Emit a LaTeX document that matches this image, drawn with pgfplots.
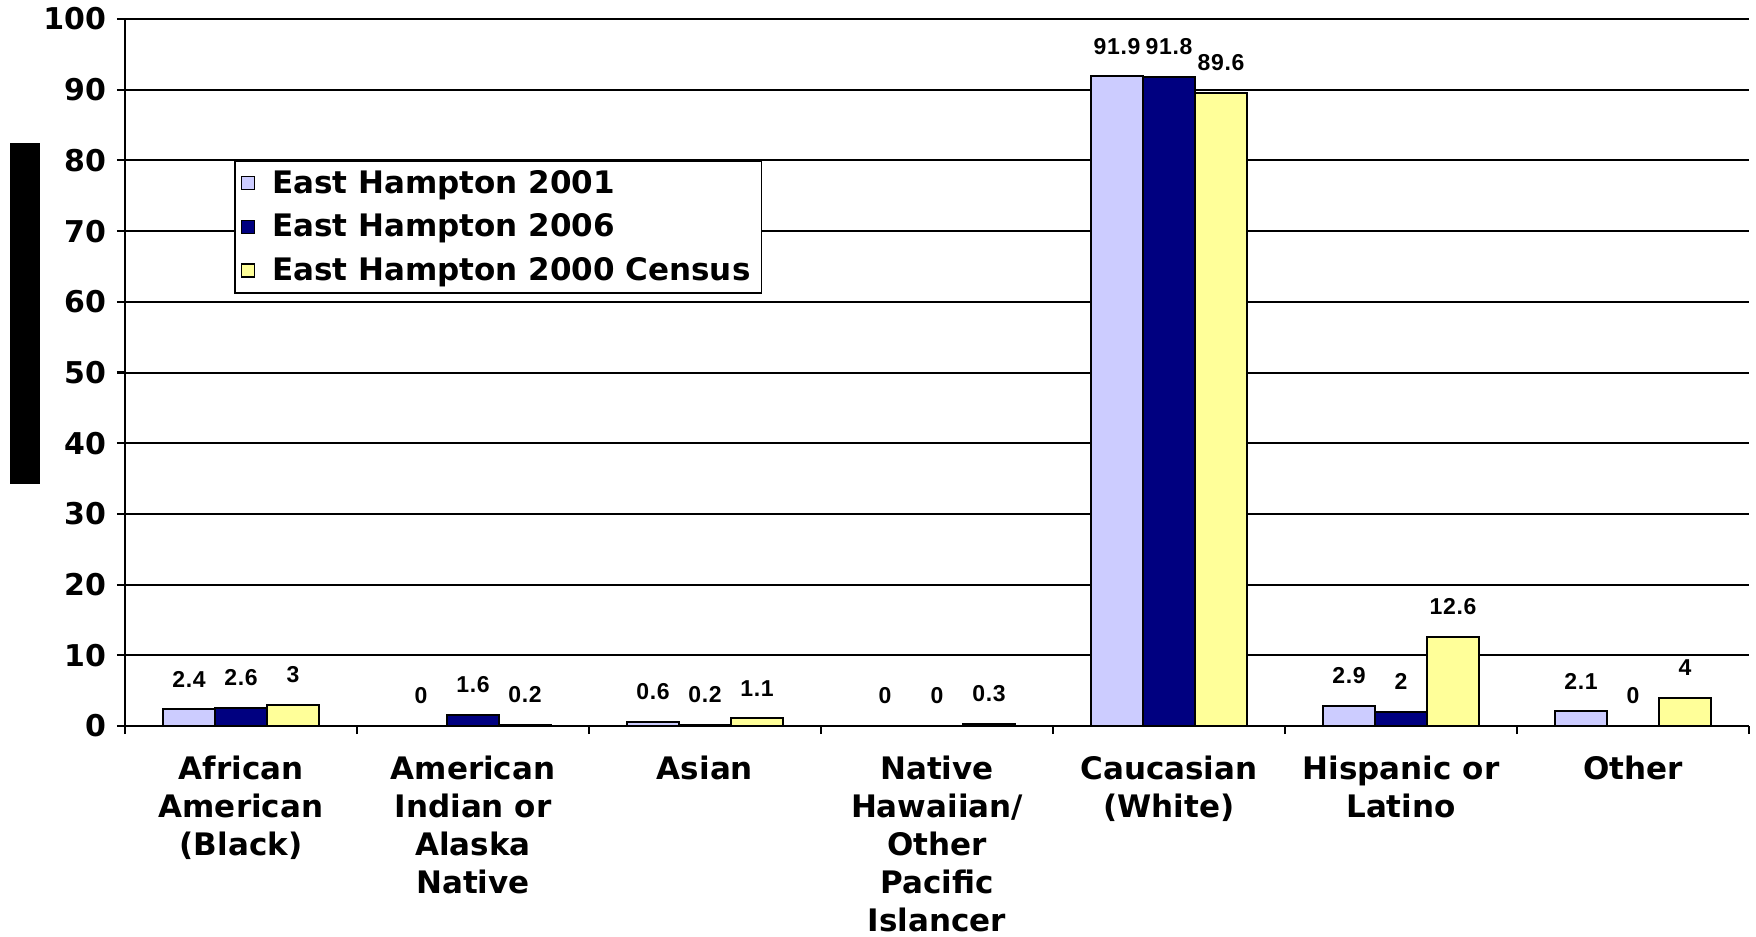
\documentclass[border=0pt]{standalone}
\usepackage{fontspec}
\setmainfont{DejaVu Sans}
\newfontfamily\labfont{Liberation Sans}[LetterSpace=3]
\usepackage{pgfplots}
\pgfplotsset{compat=1.18}
\definecolor{c2001}{HTML}{CCCCFF}
\definecolor{c2006}{HTML}{000080}
\definecolor{cCensus}{HTML}{FFFF99}

\begin{document}
\begin{tikzpicture}
\begin{axis}[
    name=main,
    scale only axis,
    width=812pt, height=353.5pt,
    clip=false,
    ybar=0pt, bar width=26pt,
    xmin=-0.5, xmax=6.5,
    ymin=0, ymax=100,
    axis x line*=bottom, axis y line*=left,
    axis line style={line width=1.1pt, -},
    xtick={-0.5,0.5,...,6.5},
    x tick label as interval,
    xticklabels={
      {African\\American\\(Black)},
      {American\\Indian or\\Alaska\\Native},
      {Asian},
      {Native\\Hawaiian/\\Other\\Pacific\\Islancer},
      {Caucasian\\(White)},
      {Hispanic or\\Latino},
      {Other}
    },
    xticklabel style={font=\bfseries\fontsize{15.5}{19}\selectfont, align=center, inner sep=0pt, yshift=-11pt},
    ytick={0,10,...,100},
    yticklabel style={font=\bfseries\fontsize{15}{17}\selectfont, xshift=-2pt},
    /pgf/number format/assume math mode=true,
    ymajorgrids,
    grid style={black, line width=1pt},
    tick style={black, line width=1.1pt},
    tick align=outside,
    major tick length=4pt,
    nodes near coords,
    every node near coord/.append style={font=\labfont\bfseries\fontsize{11.5}{13}\selectfont, text=black, inner sep=0pt, yshift=10.5pt},
    legend style={at={(rel axis cs:0.067,0.8006)}, anchor=north west,
      draw=black, line width=0.9pt,
      font=\bfseries\fontsize{15.5}{18}\selectfont,
      inner xsep=3pt, inner ysep=2.2pt, row sep=3.8pt,
      nodes={inner sep=2.5pt},
      /tikz/every odd column/.append style={column sep=6pt}},
    legend cell align=left,
    legend image code/.code={\draw[#1, line width=0.7pt] (0pt,-3.25pt) rectangle (6.5pt,3.25pt);},
]
\addplot[fill=c2001, draw=black, line width=1pt] coordinates {
  (0,2.4) (1,0) (2,0.6) (3,0) (4,91.9) (5,2.9) (6,2.1)
};
\addplot[fill=c2006, draw=black, line width=1pt] coordinates {
  (0,2.6) (1,1.6) (2,0.2) (3,0) (4,91.8) (5,2) (6,0)
};
\addplot[fill=cCensus, draw=black, line width=1pt] coordinates {
  (0,3) (1,0.2) (2,1.1) (3,0.3) (4,89.6) (5,12.6) (6,4)
};
\legend{East Hampton 2001, East Hampton 2006, East Hampton 2000 Census}
\node[fill=black, inner sep=0pt, minimum width=15pt, minimum height=170.5pt, anchor=east, xshift=-42.5pt] at (rel axis cs:0,0.5835) {};
\end{axis}
\path (main.south west) ++(-62.5pt,-105pt) coordinate (bl);
\path (main.north east) ++(3.5pt,9.5pt) coordinate (tr);
\path (bl) rectangle (tr);
\end{tikzpicture}
\end{document}
